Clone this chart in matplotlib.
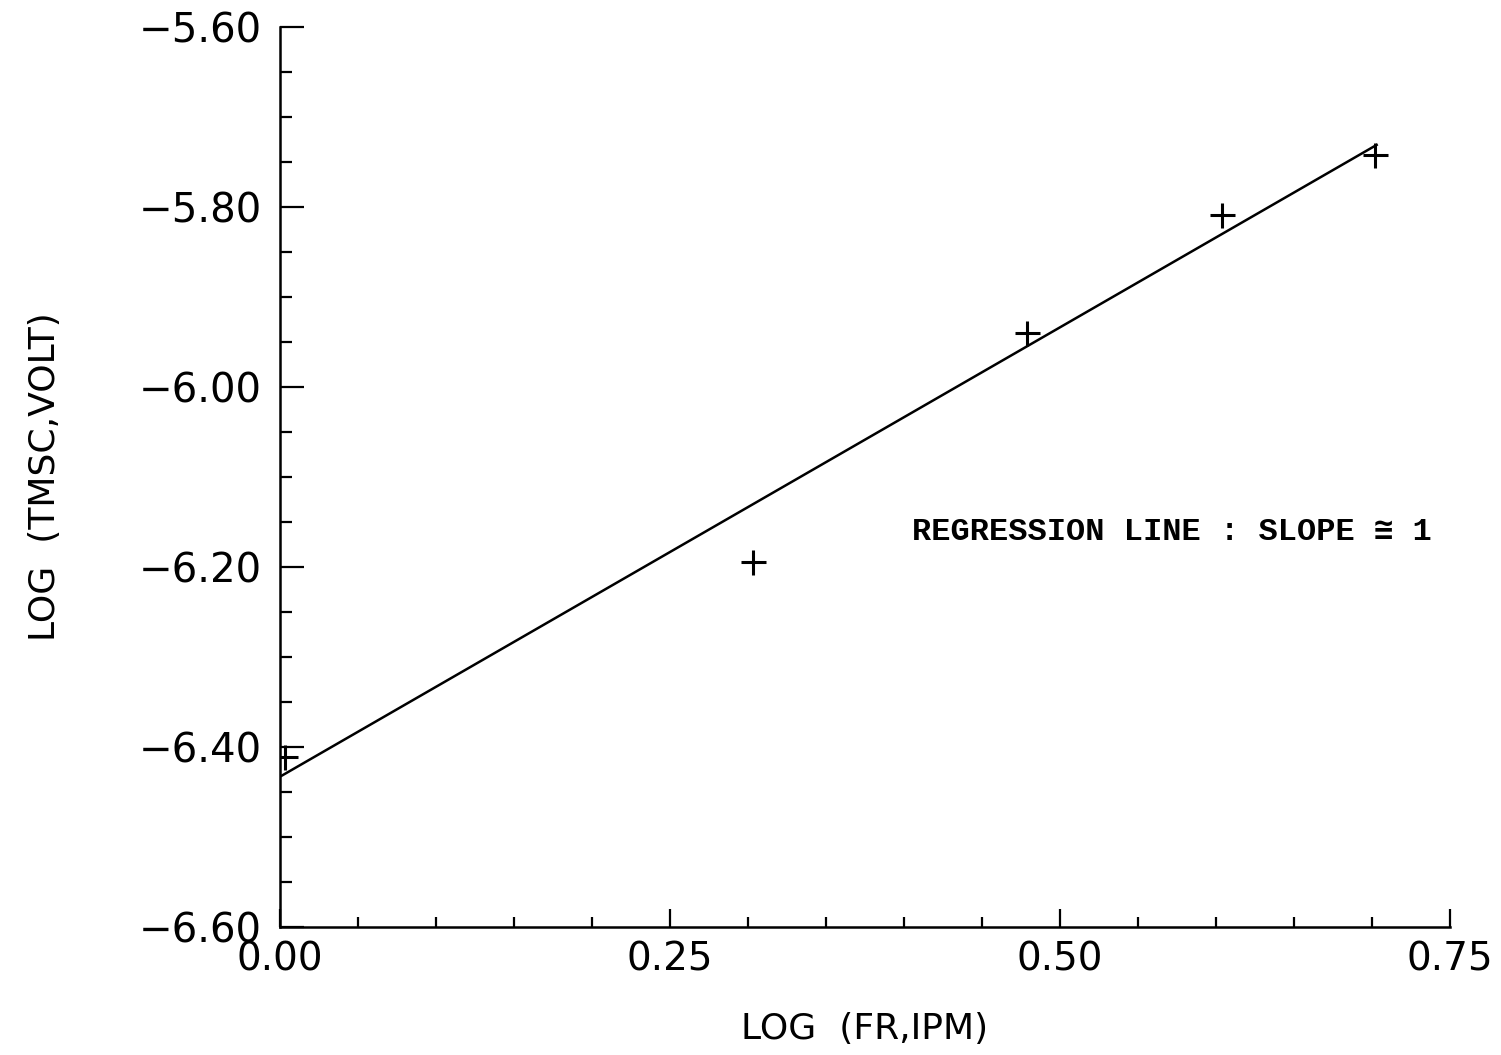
import matplotlib
matplotlib.use("Agg")
from matplotlib import pyplot as plt
from matplotlib.ticker import MultipleLocator

# measured points, log(FR, IPM) vs log(TMSC, VOLT)
log_fr = [0.003, 0.303, 0.479, 0.604, 0.702]
log_tmsc = [-6.411, -6.194, -5.940, -5.809, -5.742]

# regression line endpoints
line_x = [0.0, 0.703]
line_y = [-6.433, -5.731]

x_ticks = [0.00, 0.25, 0.50, 0.75]
y_ticks = [-6.60, -6.40, -6.20, -6.00, -5.80, -5.60]

plt.rcParams['font.family'] = ['DejaVu Sans']

fig = plt.figure(figsize=(15.01, 10.55), dpi=100)
ax = fig.add_axes([0.1865, 0.1213, 0.966 - 0.1865, 0.9744 - 0.1213])

ax.plot(line_x, line_y, color="black", lw=1.8)
ax.plot(log_fr, log_tmsc, linestyle="none", marker="+", ms=18, mew=2.2,
        color="black")

ax.set_xlim(0, 0.75)
ax.set_ylim(-6.60, -5.60)

ax.set_xticks(x_ticks)
ax.set_xticklabels([f"{v:.2f}" for v in x_ticks])
ax.set_yticks(y_ticks)
ax.set_yticklabels([f"{v:.2f}".replace("-", "\u2212") for v in y_ticks])
ax.xaxis.set_minor_locator(MultipleLocator(0.05))
ax.yaxis.set_minor_locator(MultipleLocator(0.05))

for s in ["top", "right"]:
    ax.spines[s].set_visible(False)
for s in ["left", "bottom"]:
    ax.spines[s].set_linewidth(1.8)

ax.tick_params(axis="y", which="major", direction="in", length=17, width=1.6,
               labelsize=29, pad=13)
ax.tick_params(axis="y", which="minor", direction="in", length=8.5, width=1.6)
ax.tick_params(axis="x", which="major", direction="in", length=13, width=1.6,
               labelsize=28, pad=10)
ax.tick_params(axis="x", which="minor", direction="in", length=7, width=1.6)

ax.set_xlabel("LOG  (FR,IPM)", fontsize=26, labelpad=24)
ax.set_ylabel("LOG  (TMSC,VOLT)", fontsize=26, labelpad=55)

ax.text(0.405, -6.161, "REGRESSION LINE : SLOPE \u2245 1", fontsize=23,
        fontweight="bold", family=["Liberation Mono", "DejaVu Sans Mono"],
        va="center", ha="left")

fig.savefig("out.png", dpi=100)
